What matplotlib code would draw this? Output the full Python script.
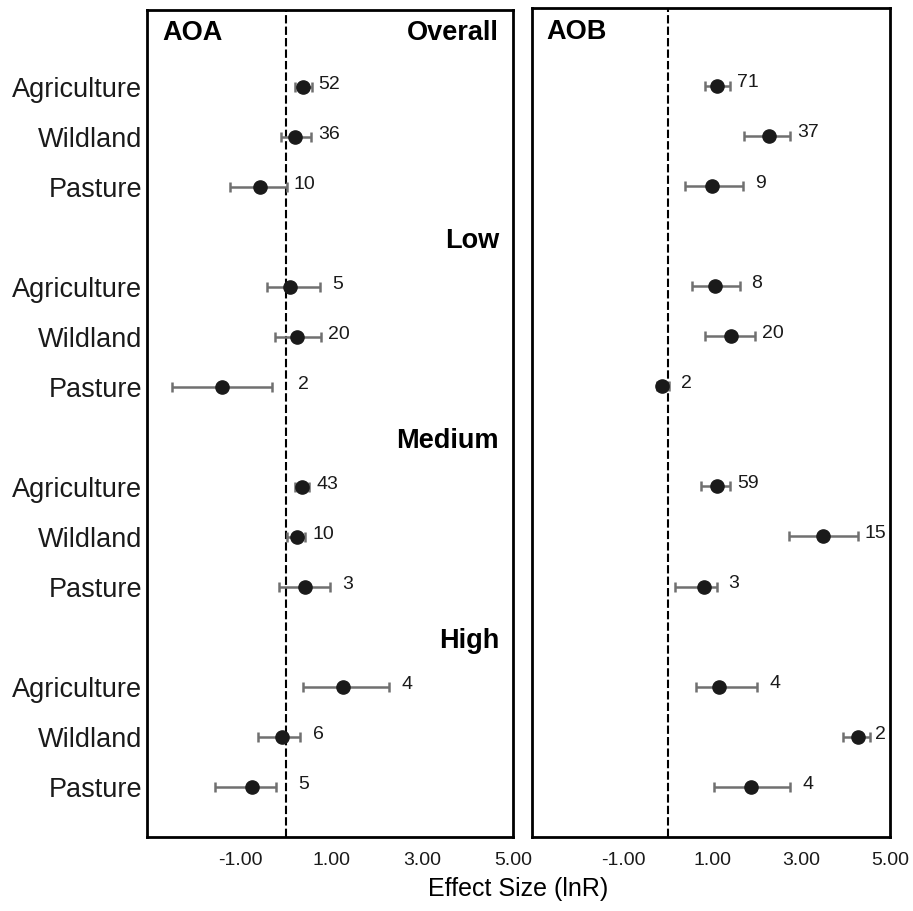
import numpy as np
import matplotlib.pyplot as plt

plt.rcParams['font.family'] = ['Liberation Sans', 'DejaVu Sans']

groups = ['Overall', 'Low', 'Medium', 'High']
land_uses = ['Agriculture', 'Wildland', 'Pasture']

# AOA: effect size, lower CI, upper CI, number of studies (row order: group x land use)
aoa_mean = [0.38, 0.20, -0.57, 0.09, 0.26, -1.39, 0.36, 0.25, 0.43, 1.26, -0.08, -0.74]
aoa_lo = [0.20, -0.11, -1.22, -0.40, -0.23, -2.51, 0.21, 0.03, -0.14, 0.38, -0.60, -1.56]
aoa_hi = [0.57, 0.56, 0.02, 0.75, 0.77, -0.31, 0.52, 0.43, 0.98, 2.28, 0.32, -0.21]
aoa_n = [52, 36, 10, 5, 20, 2, 43, 10, 3, 4, 6, 5]

# AOB
aob_mean = [1.11, 2.27, 0.99, 1.06, 1.43, -0.13, 1.11, 3.49, 0.81, 1.15, 4.27, 1.88]
aob_lo = [0.84, 1.71, 0.40, 0.55, 0.85, -0.23, 0.74, 2.74, 0.16, 0.64, 3.95, 1.04]
aob_hi = [1.41, 2.76, 1.69, 1.62, 1.97, 0.03, 1.41, 4.28, 1.10, 2.02, 4.54, 2.76]
aob_n = [71, 37, 9, 8, 20, 2, 59, 15, 3, 4, 2, 4]

xticks = [-1, 1, 3, 5]

# row positions: 3 rows per group + one blank row for the group header
ypos = np.array([g * 4 + r for g in range(len(groups)) for r in range(len(land_uses))])
ylabels = [lu for g in groups for lu in land_uses]

fig = plt.figure(figsize=(9.13, 9.11), dpi=100)
ax1 = fig.add_axes([147/913, 1 - 837/911, 366/913, 827/911])
ax2 = fig.add_axes([532/913, 1 - 837/911, 358/913, 829/911])


def draw_panel(ax, mean, lo, hi, n, title, show_groups):
    mean = np.array(mean)
    lo = np.array(lo)
    hi = np.array(hi)
    ax.axvline(0, color='black', lw=1.5, ls=(0, (4, 1.5)), zorder=1)
    ax.errorbar(mean, ypos, xerr=[mean - lo, hi - mean], fmt='o', color='#1a1a1a',
                ms=9.5, ecolor='#707070', elinewidth=1.8, capsize=3.6, capthick=1.8, zorder=3)
    for m, h, y, k in zip(mean, hi, ypos, n):
        # count sits right of the CI (and right of the zero line), kept inside the box
        xl = min(max(h, 0) + 0.39, 4.78)
        ax.annotate(str(k), (xl, y), xytext=(0, 2), textcoords='offset points',
                    ha='center', va='center', fontsize=14, color='#1a1a1a')
    ax.set_xlim(-3.05, 5.0)
    ax.set_ylim(15.0, -1.55)
    ax.set_xticks(xticks)
    ax.set_xticklabels(['%.2f' % t for t in xticks])
    ax.tick_params(axis='x', length=0, pad=11, labelsize=14, labelcolor='#1a1a1a')
    for s in ax.spines.values():
        s.set_linewidth(2)
    tr = ax.get_yaxis_transform()
    ax.text(0.041, -1.08, title, transform=tr, fontsize=19.5, fontweight='bold',
            ha='left', va='center')
    if show_groups:
        ax.set_yticks(ypos)
        ax.set_yticklabels(ylabels)
        ax.tick_params(axis='y', length=0, pad=3.5, labelsize=19.5, labelcolor='#1a1a1a')
        for g, name in enumerate(groups):
            yy = -1.08 if g == 0 else g * 4 - 0.92
            ax.text(0.962, yy, name, transform=tr, fontsize=19.5, fontweight='bold',
                    ha='right', va='center')
    else:
        ax.set_yticks([])


draw_panel(ax1, aoa_mean, aoa_lo, aoa_hi, aoa_n, 'AOA', True)
draw_panel(ax2, aob_mean, aob_lo, aob_hi, aob_n, 'AOB', False)

fig.text(0.568, 1 - 889/911, 'Effect Size (lnR)', ha='center', va='center', fontsize=18)

fig.savefig('out.png', dpi=100)
